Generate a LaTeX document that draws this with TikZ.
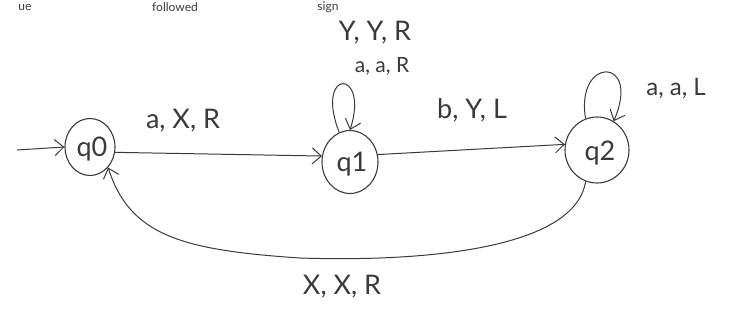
\documentclass[tikz,border=0pt]{standalone}
\usepackage{fontspec}
\setmainfont{Lato}
\usetikzlibrary{arrows.meta,shapes.geometric}
\definecolor{ink}{HTML}{3A3A3A}
\begin{document}
\begin{tikzpicture}[x=1pt,y=-1pt,
  statebox/.style={draw=ink,line width=1.1pt,ellipse,inner sep=0pt},
  edge/.style={draw=ink,line width=1pt,-{Straight Barb[length=9pt,width=16pt]}},
  lbl/.style={text=ink,font=\fontsize{27}{30}\selectfont,inner sep=0pt},
  top/.style={text=ink,font=\fontsize{12}{13}\selectfont,inner sep=0pt}]
\useasboundingbox (0,0) rectangle (736,329);
% text at the top edge
\node[top] at (25,7) {ue};
\node[top] at (175,7) {followed};
\node[top] at (328,7) {sign};
% states
\node[statebox,minimum width=50pt,minimum height=57pt] (q0) at (90,147) {};
\node[lbl] at (92,149) {q0};
\node[statebox,minimum width=56pt,minimum height=63pt] (q1) at (350,162) {};
\node[lbl] at (352,164) {q1};
\node[statebox,minimum width=64pt,minimum height=66pt] (q2) at (597,150) {};
\node[lbl] at (600,153) {q2};
% start arrow
\coordinate (s) at (17,150);
\draw[edge] (s) -- (q0.west);
% transitions
\draw[edge] (q0.-12) -- (q1.168);
\node[lbl] (l01) at (183,121) {a, X, R};
\draw[edge] (q1.15) -- (q2.170);
\node[lbl] (l12) at (472,110) {b, Y, L};
\draw[edge] (q1.110) .. controls (314,68) and (370,68) .. (q1.north);
\draw[edge] (q2.110) .. controls (575,56) and (642,56) .. (q2.60);
\draw[edge] (q2.250) .. controls (575,250) and (420,262) .. (300,258)
  .. controls (180,250) and (130,235) .. (q0.south east);
% loop labels
\node[lbl] (l11a) at (375,33) {Y, Y, R};
\node[lbl,font=\fontsize{21}{24}\selectfont] (l11b) at (382,66) {a, a, R};
\node[lbl,font=\fontsize{24}{26}\selectfont] (l22) at (676,89) {a, a, L};
\node[lbl] (l20) at (342,287) {X, X, R};
\end{tikzpicture}
\end{document}
